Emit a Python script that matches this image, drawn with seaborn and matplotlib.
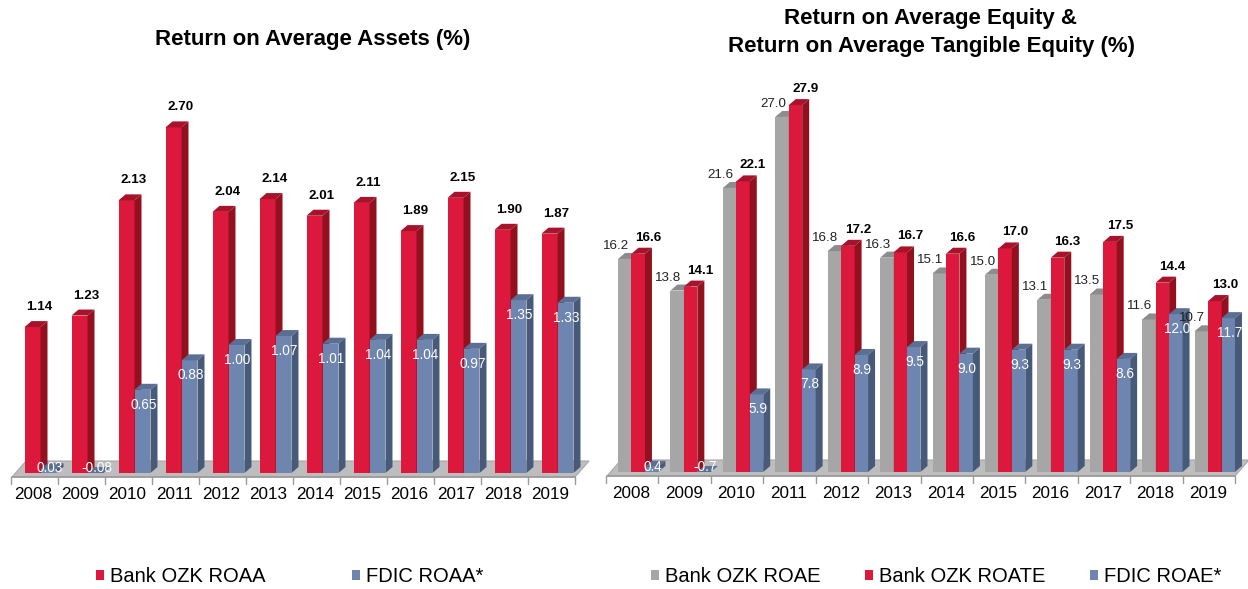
import numpy as np
import pandas as pd
import matplotlib
matplotlib.use('Agg')
import matplotlib.pyplot as plt
import seaborn as sns
from matplotlib.patches import Polygon
from matplotlib.transforms import IdentityTransform, ScaledTranslation

# ---- data ----
years = [str(y) for y in range(2008, 2020)]
ozk_roaa = [1.14, 1.23, 2.13, 2.70, 2.04, 2.14, 2.01, 2.11, 1.89, 2.15, 1.90, 1.87]
fdic_roaa = [0.03, -0.08, 0.65, 0.88, 1.00, 1.07, 1.01, 1.04, 1.04, 0.97, 1.35, 1.33]
ozk_roae = [16.2, 13.8, 21.6, 27.0, 16.8, 16.3, 15.1, 15.0, 13.1, 13.5, 11.6, 10.7]
ozk_roate = [16.6, 14.1, 22.1, 27.9, 17.2, 16.7, 16.6, 17.0, 16.3, 17.5, 14.4, 13.0]
fdic_roae = [0.4, -0.7, 5.9, 7.8, 8.9, 9.5, 9.0, 9.3, 9.3, 8.6, 12.0, 11.7]

left_order = ['Bank OZK ROAA', 'FDIC ROAA*']
right_order = ['Bank OZK ROAE', 'Bank OZK ROATE', 'FDIC ROAE*']

RED, BLUE, GREY = '#DC193C', '#6E86AF', '#A6A6A6'
# front, side, top
shades = {
    'red': (RED, '#93101F', '#A8132B'),
    'blue': (BLUE, '#475A7A', '#5A6F93'),
    'grey': (GREY, '#7E7E7E', '#8C8C8C'),
}

W, H = 1248, 589
DX, DY = 7, 6   # bar depth in pixels

sns.set_style('white')
plt.rcParams['font.family'] = ['Liberation Sans', 'DejaVu Sans']
plt.rcParams['text.color'] = 'black'

fig = plt.figure(figsize=(W / 100, H / 100), dpi=100)


def px_axes(left, zero_top, width, height):
    # left / zero line given in pixels from the top-left corner
    return fig.add_axes([left / W, (H - zero_top) / H, width / W, height / H])


def draw_panel(ax, df, order, styles, width, ylim):
    palette = {s: shades[c][0] for s, c in zip(order, styles)}
    sns.barplot(data=df, x='year', y='value', hue='series', hue_order=order,
                palette=palette, width=width, gap=0, saturation=1,
                edgecolor='none', linewidth=0, ax=ax)
    ax.set_xlim(-0.5, len(years) - 0.5)
    ax.set_ylim(*ylim)
    sns.despine(ax=ax, left=True, bottom=True)
    ax.set_yticks([])
    ax.set_xlabel('')
    ax.set_ylabel('')
    ax.tick_params(axis='x', length=0, pad=10, labelsize=12.3, labelcolor='black')
    for lab in ax.get_xticklabels():
        lab.set_transform(lab.get_transform() + ScaledTranslation(-0.07, 0, fig.dpi_scale_trans))

    # floor slab
    (xl, y0), (xr, _) = ax.transData.transform([(-0.5, 0), (len(years) - 0.5, 0)])
    fy = y0 - 4
    fl, fr = xl - 5, xr - 6
    floor = Polygon([(fl, fy), (fr, fy), (fr + 14, fy + 16), (fl + 14, fy + 16)],
                    closed=True, facecolor='#BDBDBD', edgecolor='#A8A8A8', lw=0.8,
                    transform=IdentityTransform(), zorder=1, clip_on=False)
    ax.add_artist(floor)
    ax.add_artist(plt.Line2D([fl, fr], [fy, fy], color='#9A9A9A', lw=1.2,
                             transform=IdentityTransform(), clip_on=False))
    for i in range(len(years) + 1):
        tx = ax.transData.transform((i - 0.5, 0))[0] - 6
        ax.add_artist(plt.Line2D([tx, tx], [fy, fy - 7], color='#9A9A9A', lw=1,
                                 transform=IdentityTransform(), clip_on=False))

    # 3D faces
    for hi, (cont, style) in enumerate(zip(ax.containers, styles)):
        _, side_c, top_c = shades[style]
        for bar in cont:
            bar.set_zorder(3 + hi)
            x0 = bar.get_x()
            x1 = x0 + bar.get_width()
            v = bar.get_y() + bar.get_height()
            (px0, pb), (px1, pt) = ax.transData.transform([(x0, 0), (x1, max(v, 0))])
            top = Polygon([(px0, pt), (px1, pt), (px1 + DX, pt + DY), (px0 + DX, pt + DY)],
                          closed=True, facecolor=top_c, edgecolor='none',
                          transform=IdentityTransform(), zorder=3 + hi, clip_on=False)
            ax.add_artist(top)
            if pt - pb > 1:
                side = Polygon([(px1, pb), (px1 + DX, pb + DY), (px1 + DX, pt + DY), (px1, pt)],
                               closed=True, facecolor=side_c, edgecolor='none',
                               transform=IdentityTransform(), zorder=3 + hi, clip_on=False)
                ax.add_artist(side)
    return y0


def bar_labels(ax, cont, values, fmt, kind, dx=0, dy=0):
    for bar, v in zip(cont, values):
        cx = bar.get_x() + bar.get_width() / 2
        txt = format(v, fmt)
        if kind == 'inside':
            hpx = ax.transData.transform((0, max(v, 0)))[1] - ax.transData.transform((0, 0))[1]
            off = -min(15, hpx - 5)
            ax.annotate(txt, (cx, max(v, 0)), xytext=(0.7, off * 0.72), textcoords='offset points',
                        ha='center', va='center', color='white', fontsize=9.8, zorder=10)
        else:
            ax.annotate(txt, (cx, v), xytext=(dx * 0.72, dy * 0.72),
                        textcoords='offset points', ha='center', va='center',
                        color='black' if kind == 'bold' else '#222222', fontsize=9.6,
                        fontweight='bold' if kind == 'bold' else 'normal', zorder=10)


# ---- left panel ----
roaa = pd.DataFrame({'year': years * 2,
                     'value': ozk_roaa + fdic_roaa,
                     'series': [left_order[0]] * 12 + [left_order[1]] * 12})
ax1 = px_axes(17, 473, 564, 384)
draw_panel(ax1, roaa, left_order, ['red', 'blue'], 0.68, (0, 3.0))

# ---- right panel ----
roae = pd.DataFrame({'year': years * 3,
                     'value': ozk_roae + ozk_roate + fdic_roae,
                     'series': [right_order[0]] * 12 + [right_order[1]] * 12 + [right_order[2]] * 12})
ax2 = px_axes(612, 472, 629, 394.5)
draw_panel(ax2, roae, right_order, ['grey', 'red', 'blue'], 0.77, (0, 30))

bar_labels(ax1, ax1.containers[0], ozk_roaa, '.2f', 'bold', dx=7, dy=20)
bar_labels(ax1, ax1.containers[1], fdic_roaa, '.2f', 'inside')
bar_labels(ax2, ax2.containers[0], ozk_roae, '.1f', 'plain', dx=-9, dy=13)
bar_labels(ax2, ax2.containers[1], ozk_roate, '.1f', 'bold', dx=10, dy=16)
bar_labels(ax2, ax2.containers[2], fdic_roae, '.1f', 'inside')

# titles
fig.text(313 / W, 1 - 40 / H, 'Return on Average Assets (%)', ha='center', va='center',
         fontsize=16, fontweight='bold', color='black')
fig.text(931 / W, 1 - 32.5 / H, 'Return on Average Equity &\nReturn on Average Tangible Equity (%)',
         ha='center', va='center', fontsize=16, fontweight='bold', linespacing=1.4, color='black')

# legends
leg_kw = dict(frameon=False, title=None, fontsize=14.5, handlelength=0.4, handleheight=0.4,
              handletextpad=0.3, borderpad=0, labelcolor='black', bbox_transform=fig.transFigure)
sns.move_legend(ax1, 'center', bbox_to_anchor=(290 / W, 12 / H), ncol=2,
                columnspacing=4.3, **leg_kw)
sns.move_legend(ax2, 'center', bbox_to_anchor=(936 / W, 12 / H), ncol=3,
                columnspacing=2.2, **leg_kw)

fig.savefig('out.png', dpi=100)
